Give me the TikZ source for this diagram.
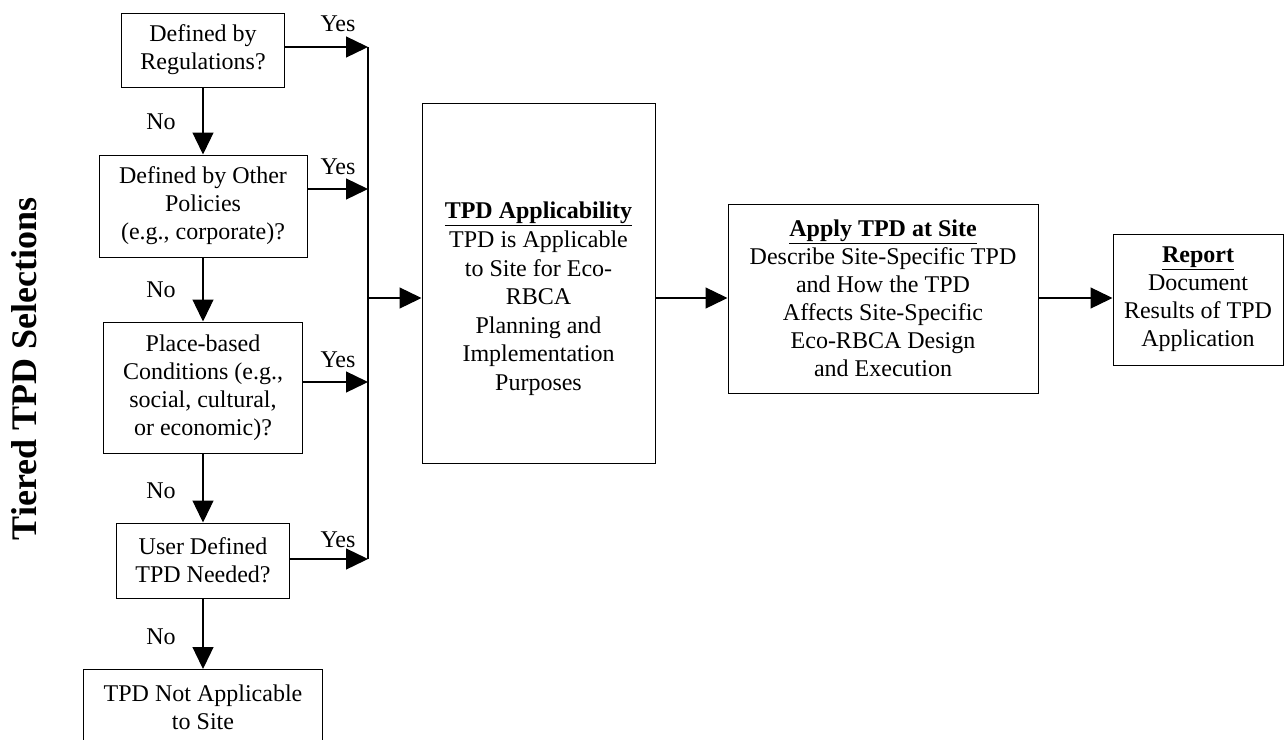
\documentclass[tikz,border=0pt]{standalone}
\usepackage{fontspec}
\setmainfont{Liberation Serif}
\usetikzlibrary{arrows.meta}
\begin{document}
\begin{tikzpicture}[x=1pt,y=-1pt,
  box/.style={draw,line width=1pt,inner sep=0pt,align=center,font=\fontsize{24}{28}\selectfont},
  txt/.style={align=center,inner sep=0pt,font=\fontsize{24}{28}\selectfont},
  arr/.style={line width=1.3pt,-{Triangle[length=22pt,width=21pt]}}]
\clip (0,0) rectangle (1287,739);

% side title
\node[rotate=90,font=\bfseries\fontsize{36}{36}\selectfont] (side) at (24,369) {Tiered TPD Selections};

% left column
\node[box,minimum width=163,minimum height=74] (reg) at (203,50) {Defined by\\Regulations?};
\node[box,minimum width=208,minimum height=102] (pol) at (203,206) {Defined by Other\\Policies\\(e.g., corporate)?};
\node[box,minimum width=199,minimum height=131] (place) at (203,387.5) {Place-based\\Conditions (e.g.,\\social, cultural,\\or economic)?};
\node[box,minimum width=173,minimum height=75] (user) at (203,560.5) {User Defined\\TPD Needed?};
\node[box,minimum width=239,minimum height=100,anchor=north] (notapp) at (203,669) {};
\node[txt] (notapptxt) at (203,707) {TPD Not Applicable\\to Site};

\draw[arr] (reg) -- (pol);
\draw[arr] (pol) -- (place);
\draw[arr] (place) -- (user);
\draw[arr] (user) -- (notapp);
\node[txt] (no1) at (161,122) {No};
\node[txt] (no2) at (161,290) {No};
\node[txt] (no3) at (161,491) {No};
\node[txt] (no4) at (161,637) {No};

% yes branches to the bus
\coordinate (b1) at (368,47);
\coordinate (b2) at (368,189);
\coordinate (b3) at (368,382);
\coordinate (b4) at (368,559);
\coordinate (bm) at (368,298);
\draw[arr] (reg.east |- b1) -- (b1);
\draw[arr] (pol.east |- b2) -- (b2);
\draw[arr] (place.east |- b3) -- (b3);
\draw[arr] (user.east |- b4) -- (b4);
\draw[line width=1.3pt] (b1) -- (b4);
\node[txt] (yes1) at (338,24) {Yes};
\node[txt] (yes2) at (338,167) {Yes};
\node[txt] (yes3) at (338,360) {Yes};
\node[txt] (yes4) at (338,540) {Yes};

% right part
\node[box,minimum width=233,minimum height=360] (appl) at (538.5,283) {};
\node[txt,font=\fontsize{24}{28.6}\selectfont] (appltxt) at (538.5,299) {\textbf{\underline{TPD Applicability}}\\TPD is Applicable\\to Site for Eco-\\RBCA\\Planning and\\Implementation\\Purposes};
\node[box,minimum width=310,minimum height=189] (apply) at (883,298.5) {\textbf{\underline{Apply TPD at Site}}\\Describe Site-Specific TPD\\and How the TPD\\Affects Site-Specific\\Eco-RBCA Design\\and Execution};
\node[box,minimum width=170,minimum height=131] (report) at (1198,299.5) {\textbf{\underline{Report}}\\Document\\Results of TPD\\Application};

\draw[arr] (bm) -- (appl.west |- bm);
\draw[arr] (appl.east |- bm) -- (apply.west |- bm);
\draw[arr] (apply.east |- bm) -- (report.west |- bm);
\end{tikzpicture}
\end{document}
